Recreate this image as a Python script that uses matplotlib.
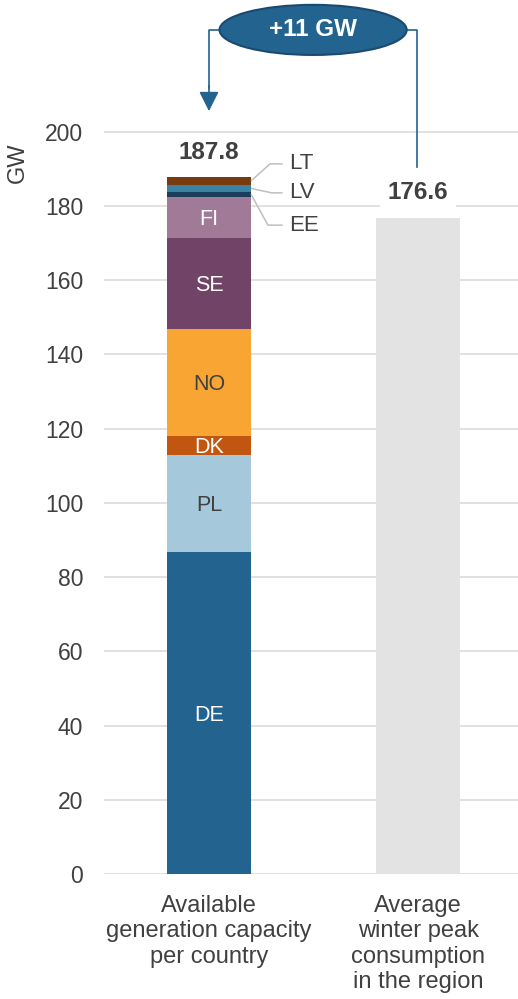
import matplotlib
matplotlib.use("Agg")
import matplotlib.pyplot as plt
from matplotlib.patches import Ellipse
import numpy as np

plt.rcParams['font.family'] = ['Liberation Sans', 'DejaVu Sans']

# ---- data ----
categories = ["Available\ngeneration capacity\nper country",
              "Average\nwinter peak\nconsumption\nin the region"]
countries = ["DE", "PL", "DK", "NO", "SE", "FI", "EE", "LV", "LT"]
capacity = [86.8, 26.2, 5.1, 28.7, 24.6, 11.1, 1.3, 1.8, 2.2]
colors = ["#236390", "#a5c8da", "#c0560f", "#f8a533", "#714366",
          "#a07a96", "#1a3f5c", "#3b83a3", "#7a3a10"]
label_colors = ["white", "#404040", "white", "#404040", "white", "white"]
total_capacity = 187.8
peak_consumption = 176.6
yticks = list(range(0, 201, 20))

TXT = "#404040"
W, H = 518, 999
fig = plt.figure(figsize=(W / 100, H / 100), dpi=100)
ax_left, ax_bottom, ax_w = 104, 125, 414
ymax = 235
px_per_unit = 3.712
ax = fig.add_axes([ax_left / W, ax_bottom / H, ax_w / W, ymax * px_per_unit / H])
ax.set_xlim(-0.502, 1.478)
ax.set_ylim(0, ymax)

bw = 0.402
bottom = 0.0
for i, (c, v, col) in enumerate(zip(countries, capacity, colors)):
    ax.bar(0, v, width=bw, bottom=bottom, color=col, zorder=3, linewidth=0)
    if i < len(label_colors):
        ax.text(0, bottom + v / 2, c, ha="center", va="center_baseline",
                fontsize=15.5, color=label_colors[i], zorder=4)
    bottom += v

ax.bar(1, peak_consumption, width=bw, color="#e3e3e3", zorder=3, linewidth=0)

# value labels
ax.text(0, total_capacity + 6.7, f"{total_capacity:.1f}", ha="center", va="center",
        fontsize=17.5, fontweight="bold", color=TXT, zorder=5)
ax.text(1, peak_consumption + 6.9, f"{peak_consumption:.1f}", ha="center", va="center",
        fontsize=17.5, fontweight="bold", color=TXT, zorder=5,
        bbox=dict(boxstyle="square,pad=0.3", fc="white", ec="none"))

# leader labels for small segments
cum = np.cumsum([0] + capacity)
small = {"EE": (6, 174.8, 0.282), "LV": (7, 183.5, 0.30), "LT": (8, 191.3, 0.292)}
for name, (idx, ly, ex) in small.items():
    mid = (cum[idx] + cum[idx + 1]) / 2
    ax.plot([bw / 2, ex, 0.352], [mid, ly, ly], color="#bfbfbf", lw=1.1,
            zorder=4, clip_on=False, solid_capstyle="butt")
    ax.text(0.385, ly, name, ha="left", va="center", fontsize=16, color=TXT)

# difference callout
diff = total_capacity - peak_consumption
top_y = 227.4
ecx, ecw, ech = 0.498, 0.895, 13.5
line_col = "#236390"
ax.plot([ecx - ecw / 2, 0, 0], [top_y, top_y, total_capacity + 24],
        color=line_col, lw=1.2, clip_on=False, zorder=5)
ax.annotate("", xy=(0, total_capacity + 17.7), xytext=(0, total_capacity + 24.5),
            arrowprops=dict(arrowstyle="-|>,head_length=1.0,head_width=0.5",
                            mutation_scale=12, color=line_col, lw=1.2,
                            shrinkA=0, shrinkB=0),
            annotation_clip=False, zorder=5)
ax.plot([ecx + ecw / 2, 0.995, 0.995], [top_y, top_y, peak_consumption + 13.9],
        color=line_col, lw=1.2, clip_on=False, zorder=5)
ell = Ellipse((ecx, top_y), ecw, ech, facecolor="#236390", edgecolor="#1a4a70",
              lw=1.5, zorder=6, clip_on=False)
ax.add_patch(ell)
ax.text(ecx, top_y, f"+{round(diff):d} GW", ha="center", va="center",
        fontsize=17.5, fontweight="bold", color="white", zorder=7)

# axes styling
ax.set_yticks(yticks)
ax.set_yticklabels([str(t) for t in yticks], fontsize=16.5, color=TXT)
ax.set_xticks([0, 1])
ax.set_xticklabels(categories, fontsize=17, color=TXT)
for lbl in ax.get_xticklabels():
    lbl.set_linespacing(1.2)
ax.tick_params(axis="y", length=0, pad=15)
ax.tick_params(axis="x", length=0, pad=15)
ax.grid(axis="y", color="#d9d9d9", lw=1.1, zorder=0)
ax.set_axisbelow(True)
for s in ax.spines.values():
    s.set_visible(False)

fig.text(18 / W, 1 - 163 / H, "GW", rotation=90, ha="center", va="center",
         fontsize=17, color=TXT)

fig.savefig("out.png", dpi=100)
